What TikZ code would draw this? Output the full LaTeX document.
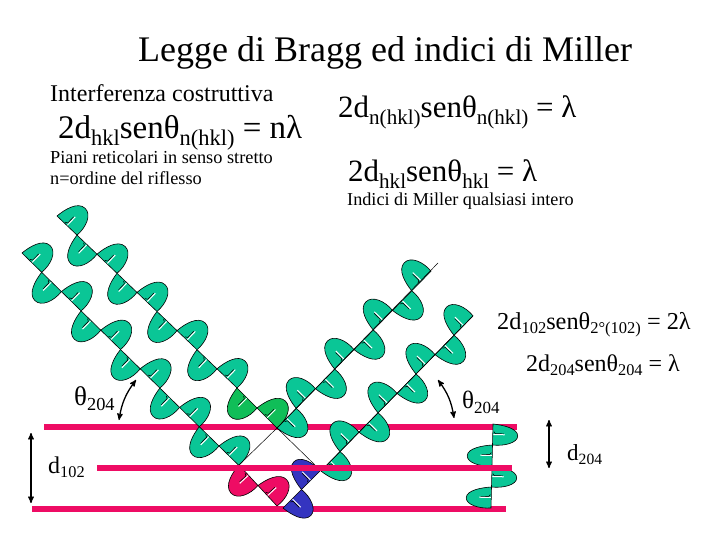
\documentclass[tikz,border=0pt]{standalone}
\usepackage{fontspec}
\setmainfont{Liberation Serif}
\usetikzlibrary{arrows}
\definecolor{planecolor}{RGB}{238,12,100}
\definecolor{wavecolor}{RGB}{10,198,150}
\definecolor{greencolor}{RGB}{16,190,88}
\definecolor{bluecolor}{RGB}{52,52,192}
\newcommand{\low}[1]{\raisebox{-.2em}{\scalebox{.68}{#1}}}
% x0, y0, dx, dy, number of lobes, first side, colour in \wavefill
\newcommand{\wavetrain}[6]{%
  \pgfmathsetmacro{\trainangle}{atan2(-(#4),#3)}
  \pgfmathsetmacro{\trainlen}{veclen(#3,#4)/27.6}
  \foreach \n in {1,...,#5}{
    \pgfmathsetmacro{\px}{#1+(\n-1)*(#3)}
    \pgfmathsetmacro{\py}{#2+(\n-1)*(#4)}
    \pgfmathsetmacro{\ps}{#6*(1-2*mod(\n-1,2))}
    \begin{scope}[shift={(\px,\py)},rotate=\trainangle,x=\trainlen pt,y=\ps pt]
      \filldraw[wave line,fill=\wavefill] (0,0) .. controls (1,10) and (5,25) .. (15,25)
        .. controls (24,25) and (29,12) .. (27.6,0) -- cycle;
      \draw[tick back] (10,1) -- (12.6,2.5) -- (12.6,11);
      \draw[tick front] (13.8,0.5) -- (13.8,12);
    \end{scope}
  }
}
\begin{document}
\begin{tikzpicture}[
    x=1pt, y=-1pt,
    wave line/.style={draw=black, line width=0.6pt},
    tick back/.style={black, line width=0.6pt},
    tick front/.style={white, line width=1pt},
    thin ray/.style={black, line width=0.5pt},
    crystal plane/.style={planecolor, line width=6pt},
    double arrow/.style={<->, >=stealth', line width=1.3pt},
    every node/.style={inner sep=0pt, anchor=base west, color=black}
    ]
    \useasboundingbox (0,0) rectangle (720,540);

    % title and formulas
    \node (title) at (138,62) {\fontsize{36}{36}\selectfont Legge di Bragg ed indici di Miller};
    \node (costr) at (50,102) {\fontsize{24}{24}\selectfont Interferenza costruttiva};
    \node (braggn) at (58,139) {\fontsize{33}{33}\selectfont 2d\low{hkl}senθ\low{n(hkl)} = nλ};
    \node (piani) at (50,164) {\fontsize{18.3}{18}\selectfont Piani reticolari in senso stretto};
    \node (ordine) at (50,185) {\fontsize{18.3}{18}\selectfont n=ordine del riflesso};
    \node (braggnh) at (338,118) {\fontsize{31}{31}\selectfont 2d\low{n(hkl)}senθ\low{n(hkl)} = λ};
    \node (bragghkl) at (348,182) {\fontsize{31}{31}\selectfont 2d\low{hkl}senθ\low{hkl} = λ};
    \node (indici) at (347,206) {\fontsize{18.2}{18}\selectfont Indici di Miller qualsiasi intero};
    \node (second) at (497,329) {\fontsize{24.3}{24}\selectfont 2d\low{102}senθ\low{2°(102)} = 2λ};
    \node (first) at (526,371) {\fontsize{24}{24}\selectfont 2d\low{204}senθ\low{204} = λ};
    \node (thetaleft) at (74,405) {\fontsize{27}{27}\selectfont θ\low{204}};
    \node (thetaright) at (462,408) {\fontsize{25}{25}\selectfont θ\low{204}};
    \node (dleft) at (48,473) {\fontsize{24}{24}\selectfont d\low{102}};
    \node (dright) at (567,460) {\fontsize{23}{23}\selectfont d\low{204}};

    % planes under the waves
    \coordinate (top1) at (44,427);
    \coordinate (top2) at (517,427);
    \coordinate (mid1) at (97,468);
    \coordinate (mid2) at (512,468);
    \coordinate (bot1) at (32,509);
    \coordinate (bot2) at (506,509);
    \draw[crystal plane] (top1) -- (top2);
    \draw[crystal plane] (bot1) -- (bot2);

    % thin rays
    \coordinate (A) at (239,465);
    \coordinate (B) at (277,428);
    \coordinate (C) at (315,465);
    \coordinate (D) at (438,263);
    \coordinate (E) at (473,316);
    \coordinate (F) at (321,471);

    % incoming waves
    \def\wavefill{wavecolor}
    \wavetrain{57}{216}{20}{19.1}{9}{1}
    \wavetrain{22}{253}{19.7}{19.3}{11}{1}
    \def\wavefill{greencolor}
    \wavetrain{237}{388}{20}{20}{2}{-1}
    \def\wavefill{planecolor}
    \wavetrain{239}{465}{19}{20.5}{2}{-1}

    % outgoing waves
    \def\wavefill{bluecolor}
    \wavetrain{283}{508}{18.5}{-18.5}{2}{-1}
    \def\wavefill{wavecolor}
    \wavetrain{277}{428}{19.25}{-19.6}{8}{-1}
    \wavetrain{321}{471}{19}{-19.4}{8}{-1}
    \wavetrain{493}{424}{-0.5}{21}{4}{1}

    \draw[thin ray] (A) -- (B) -- (C);
    \draw[thin ray] (B) -- (D);
    \draw[thin ray] (F) -- (E);

    % plane over the waves
    \draw[crystal plane] (mid1) -- (mid2);

    % arrows
    \coordinate (angA) at (119,420);
    \coordinate (angB) at (136,380);
    \coordinate (angC) at (438,380);
    \coordinate (angD) at (454,418);
    \coordinate (dA) at (31,433);
    \coordinate (dB) at (31,503);
    \coordinate (dC) at (549,420);
    \coordinate (dD) at (549,468);
    \draw[double arrow] (angA) to[bend left=14] (angB);
    \draw[double arrow] (angC) to[bend left=14] (angD);
    \draw[double arrow] (dA) -- (dB);
    \draw[double arrow] (dC) -- (dD);
\end{tikzpicture}
\end{document}
